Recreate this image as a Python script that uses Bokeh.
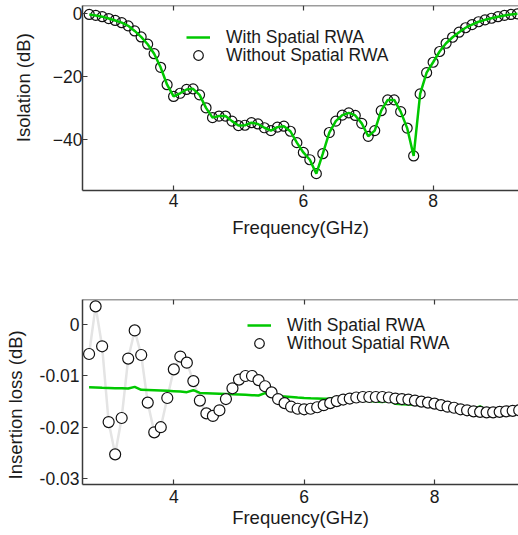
from bokeh.plotting import figure
from bokeh.layouts import column
from bokeh.models import LinearAxis, FixedTicker, Legend, LegendItem, Range1d
from bokeh.embed import file_html
from bokeh.resources import INLINE

# ---------------- data ----------------
freq = [2.7, 2.8, 2.9, 3.0, 3.1, 3.2, 3.3, 3.4, 3.5, 3.6,
        3.7, 3.8, 3.9, 4.0, 4.1, 4.2, 4.3, 4.4, 4.5, 4.6,
        4.7, 4.8, 4.9, 5.0, 5.1, 5.2, 5.3, 5.4, 5.5, 5.6,
        5.7, 5.8, 5.9, 6.0, 6.1, 6.2, 6.3, 6.4, 6.5, 6.6,
        6.7, 6.8, 6.9, 7.0, 7.1, 7.2, 7.3, 7.4, 7.5, 7.6,
        7.7, 7.8, 7.9, 8.0, 8.1, 8.2, 8.3, 8.4, 8.5, 8.6,
        8.7, 8.8, 8.9, 9.0, 9.1, 9.2, 9.3]

iso_with = [-0.4, -0.7, -1.1, -1.7, -2.3, -3.0, -4.0, -5.6, -7.5, -9.8,
            -12.8, -17.1, -22.6, -26.3, -25.3, -24.1, -23.9, -25.8, -29.9, -33.0,
            -32.5, -32.5, -34.1, -35.5, -35.4, -34.6, -35.0, -36.2, -37.1, -36.0,
            -35.7, -37.3, -40.9, -44.0, -46.3, -50.7, -44.4, -37.7, -34.1, -32.2,
            -31.5, -32.3, -34.8, -38.9, -37.1, -30.8, -27.4, -27.4, -31.1, -36.3,
            -45.1, -25.5, -18.8, -15.5, -12.1, -9.5, -7.6, -6.0, -4.6, -3.6,
            -2.7, -2.1, -1.6, -1.1, -0.7, -0.4, -0.2]

iso_without = [-0.4, -0.7, -1.1, -1.7, -2.3, -3.0, -4.0, -5.6, -7.5, -9.8,
               -12.8, -17.1, -22.6, -26.3, -25.3, -24.1, -23.9, -25.8, -29.9, -33.0,
               -32.5, -32.5, -34.1, -35.5, -35.4, -34.6, -35.0, -36.2, -37.1, -36.0,
               -35.7, -37.3, -40.9, -44.0, -46.3, -50.7, -44.4, -37.7, -34.1, -32.2,
               -31.5, -32.3, -34.8, -38.9, -37.1, -30.8, -27.4, -27.4, -31.1, -36.3,
               -45.1, -25.5, -18.8, -15.5, -12.1, -9.5, -7.6, -6.0, -4.6, -3.6,
               -2.7, -2.1, -1.6, -1.1, -0.7, -0.4, -0.2]

il_with = [-0.01220, -0.01225, -0.01230, -0.01233, -0.01237, -0.01240, -0.01244, -0.01212, -0.01270, -0.01275,
           -0.01280, -0.01285, -0.01290, -0.01296, -0.01305, -0.01316, -0.01277, -0.01330, -0.01335, -0.01340,
           -0.01345, -0.01350, -0.01356, -0.01362, -0.01368, -0.01374, -0.01380, -0.01335, -0.01390, -0.01395,
           -0.01400, -0.01410, -0.01420, -0.01428, -0.01434, -0.01438, -0.01442, -0.01445, -0.01414, -0.01465,
           -0.01470, -0.01476, -0.01482, -0.01490, -0.01500, -0.01510, -0.01478, -0.01543, -0.01550, -0.01556,
           -0.01562, -0.01568, -0.01574, -0.01580, -0.01590, -0.01600, -0.01610, -0.01620, -0.01630, -0.01640,
           -0.01595, -0.01660, -0.01670, -0.01680, -0.01690, -0.01700, -0.01710]

il_without = [-0.0057, 0.0036, -0.0042, -0.0190, -0.0253, -0.0182, -0.0066, -0.0011, -0.0059, -0.0152,
              -0.0210, -0.0200, -0.0143, -0.0087, -0.0062, -0.0074, -0.0110, -0.0148, -0.0173, -0.0178,
              -0.0167, -0.0145, -0.0124, -0.0107, -0.0100, -0.0100, -0.0108, -0.0120, -0.0132, -0.0145,
              -0.0153, -0.0160, -0.0164, -0.0165, -0.0164, -0.0161, -0.0157, -0.0153, -0.0149, -0.0146,
              -0.0144, -0.0142, -0.0141, -0.0141, -0.0141, -0.0141, -0.0142, -0.0144, -0.0145, -0.0146,
              -0.0148, -0.0150, -0.0152, -0.0154, -0.0157, -0.0160, -0.0162, -0.0165, -0.0167, -0.0169,
              -0.0170, -0.0171, -0.0171, -0.0170, -0.0169, -0.0168, -0.0167]

x_ticks = [4, 6, 8]
x_label = "Frequency(GHz)"
iso_ticks = [0, -20, -40]
il_ticks = [0, -0.01, -0.02, -0.03]
il_tick_labels = {0: "0", -0.01: "-0.01", -0.02: "-0.02", -0.03: "-0.03"}
series_labels = ["With Spatial RWA", "Without Spatial RWA"]

# ---------------- style ----------------
FONT = "Liberation Sans"
TXT = "#1a1a1a"
AX = "#3a3a3a"
GREEN = "#00c800"
TICK_FS = "17.5px"
LABEL_FS = "18.5px"


def style_axis(ax, ticks, std=5):
    ax.ticker = FixedTicker(ticks=ticks)
    ax.minor_tick_line_color = None
    ax.major_tick_in = 5
    ax.major_tick_out = 0
    ax.major_tick_line_color = AX
    ax.major_tick_line_width = 1.2
    ax.axis_line_color = AX
    ax.axis_line_width = 1.5
    ax.major_label_text_font = FONT
    ax.major_label_text_color = TXT
    ax.major_label_text_font_size = TICK_FS
    ax.axis_label_text_font = FONT
    ax.axis_label_text_font_style = "normal"
    ax.axis_label_text_color = TXT
    ax.axis_label_text_font_size = LABEL_FS
    ax.major_label_standoff = std


def top_axis(p, ticks, yloc):
    ax = LinearAxis(fixed_location=yloc)
    style_axis(ax, ticks, std=0)
    ax.major_label_text_color = None
    ax.major_label_overrides = {t: "" for t in ticks}
    p.add_layout(ax, "above")


def add_legend_row(p, label, r, loc):
    lg = Legend(items=[LegendItem(label=label, renderers=[r])],
                location=loc, border_line_color=None, background_fill_alpha=0,
                padding=0, margin=0, spacing=0, glyph_width=24, glyph_height=24,
                label_height=24, label_standoff=16, label_text_font=FONT,
                label_text_font_size=TICK_FS, label_text_color=TXT)
    p.add_layout(lg)


# ---------------- top: isolation ----------------
y1 = Range1d(-56.02, 2.43)
p1 = figure(width=518, height=241, output_backend="svg", toolbar_location=None,
            x_range=Range1d(2.596, 9.316), y_range=y1,
            min_border_left=79, min_border_right=0, min_border_top=5, min_border_bottom=51)
p1.outline_line_color = None
p1.grid.visible = False
style_axis(p1.xaxis[0], x_ticks, std=3)
p1.xaxis[0].axis_label = x_label
p1.xaxis[0].axis_label_standoff = 7
style_axis(p1.yaxis[0], iso_ticks, std=0)
p1.yaxis[0].axis_label = "\u00a0\u00a0\u00a0\u00a0Isolation (dB)"
p1.yaxis[0].axis_label_standoff = 16
top_axis(p1, x_ticks, y1.end)

c1 = p1.scatter(freq, iso_without, marker="circle", size=10, fill_color=None,
                line_color="#111111", line_width=1.2)
l1 = p1.line(freq, iso_with, line_color=GREEN, line_width=2.5)
add_legend_row(p1, series_labels[0], l1, (104, 141))
add_legend_row(p1, series_labels[1], c1, (104, 123))

# ---------------- bottom: insertion loss ----------------
y2 = Range1d(-0.03119, 0.00494)
p2 = figure(width=518, height=290, output_backend="svg", toolbar_location=None,
            x_range=Range1d(2.599, 9.289), y_range=y2,
            min_border_left=82, min_border_right=0, min_border_top=58, min_border_bottom=47)
p2.outline_line_color = None
p2.grid.visible = False
style_axis(p2.xaxis[0], x_ticks, std=5)
p2.xaxis[0].axis_label = x_label
p2.xaxis[0].axis_label_standoff = 1
style_axis(p2.yaxis[0], il_ticks, std=3)
p2.yaxis[0].major_label_overrides = il_tick_labels
p2.yaxis[0].axis_label = "Insertion loss (dB)\u00a0\u00a0\u00a0\u00a0\u00a0"
p2.yaxis[0].axis_label_standoff = 11
top_axis(p2, x_ticks, y2.end)

p2.line(freq, il_without, line_color="#e4e4e4", line_width=2.5)
l2 = p2.line(freq, il_with, line_color=GREEN, line_width=2.5)
c2 = p2.scatter(freq, il_without, marker="circle", size=11, fill_color="white",
                line_color="#111111", line_width=1.2)
add_legend_row(p2, series_labels[0], l2, (165, 147))
add_legend_row(p2, series_labels[1], c2, (165, 129))

layout = column(p1, p2, spacing=0)
open("out.html", "w").write(file_html(layout, INLINE))
